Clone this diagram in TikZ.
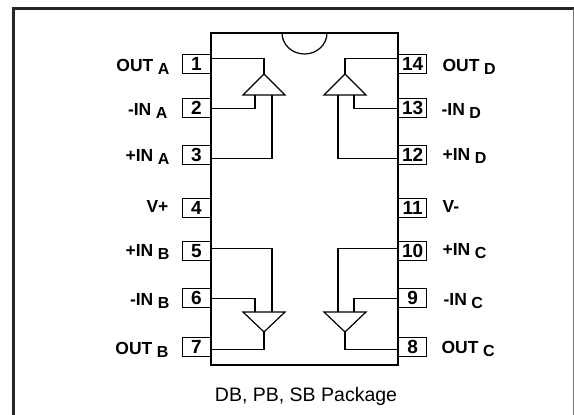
\documentclass[tikz,border=0pt]{standalone}
\usepackage{fontspec}
\setmainfont{Liberation Sans}
\usetikzlibrary{positioning}
\begin{document}
\begin{tikzpicture}[
    x=1pt,
    y=-1pt,
    line width=1.2pt,
    pinbox/.style={
      draw,
      minimum width=28pt,
      minimum height=19pt,
      inner sep=0,
      font=\bfseries\fontsize{19}{19}\selectfont,
    },
    pinlabel/.style={
      inner sep=0,
      font=\bfseries\fontsize{17.5}{18}\selectfont,
    },
    caption/.style={
      inner sep=0,
      font=\fontsize{19.5}{20}\selectfont,
    },
  ]
    \newcommand\leftpin[3]{%
      \node[pinbox,anchor=north east] (#3) at (211, #2) {#1\hspace{6pt}};
    }
    \newcommand\rightpin[3]{%
      \node[pinbox,anchor=north west] (#3) at (398, #2) {#1\hspace{3pt}};
    }
    \newcommand\pinsub[1]{\hspace{4.5pt}\raisebox{-3pt}{\fontsize{16}{16}\selectfont #1}}

    \useasboundingbox (0, 0) rectangle (574, 415);
    \draw[line width=2.8pt,color=black!85] (13.5, 415) -- (13.5, 8.5) -- (574, 8.5);
    \draw[line width=1pt,color=black!55] (573.5, 8.5) -- (573.5, 415);

    \draw (211, 33) rectangle (398, 365);
    \draw (282, 33) arc[start angle=180, end angle=360, x radius=22.5, y radius=-21];

    \leftpin{1}{54}{pinone}
    \leftpin{2}{98}{pintwo}
    \leftpin{3}{145}{pinthree}
    \leftpin{4}{198}{pinfour}
    \leftpin{5}{241}{pinfive}
    \leftpin{6}{288}{pinsix}
    \leftpin{7}{337}{pinseven}
    \rightpin{14}{54}{pinfourteen}
    \rightpin{13}{98}{pinthirteen}
    \rightpin{12}{145}{pintwelve}
    \rightpin{11}{198}{pineleven}
    \rightpin{10}{241}{pinten}
    \rightpin{9}{288}{pinnine}
    \rightpin{8}{337}{pineight}

    \node[pinlabel,anchor=base east] (outa) at (170, 71) {OUT\pinsub{A}};
    \node[pinlabel,anchor=base east] (mina) at (168, 115) {-IN\pinsub{A}};
    \node[pinlabel,anchor=base east] (plusa) at (170, 161) {+IN\pinsub{A}};
    \node[pinlabel,anchor=base east] (vplus) at (169, 212) {V+};
    \node[pinlabel,anchor=base east] (plusb) at (170, 256) {+IN\pinsub{B}};
    \node[pinlabel,anchor=base east] (minb) at (170, 305) {-IN\pinsub{B}};
    \node[pinlabel,anchor=base east] (outb) at (169, 354) {OUT\pinsub{B}};
    \node[pinlabel,anchor=base west] (outd) at (442, 71) {OUT\pinsub{D}};
    \node[pinlabel,anchor=base west] (mind) at (441, 115) {-IN\pinsub{D}};
    \node[pinlabel,anchor=base west] (plusd) at (442, 160) {+IN\pinsub{D}};
    \node[pinlabel,anchor=base west] (vminus) at (442, 212) {V-};
    \node[pinlabel,anchor=base west] (plusc) at (442, 255) {+IN\pinsub{C}};
    \node[pinlabel,anchor=base west] (minc) at (443, 305) {-IN\pinsub{C}};
    \node[pinlabel,anchor=base west] (outc) at (441, 353) {OUT\pinsub{C}};

    \node[caption,anchor=base] (pkg) at (306, 401) {DB, PB, SB Package};

    % amplifiers
    \coordinate (tipa) at (264, 74);
    \coordinate (mininputa) at (255, 95);
    \coordinate (plusinputa) at (272, 95);
    \coordinate (tipd) at (345, 74);
    \coordinate (mininputd) at (354, 95);
    \coordinate (plusinputd) at (338, 95);
    \coordinate (tipb) at (264, 332);
    \coordinate (mininputb) at (255, 312);
    \coordinate (plusinputb) at (272, 312);
    \coordinate (tipc) at (345, 332);
    \coordinate (mininputc) at (354, 312);
    \coordinate (plusinputc) at (338, 312);

    \draw (tipa) -- (243, 95) -- (285, 95) -- cycle;
    \draw (tipd) -- (324, 95) -- (366, 95) -- cycle;
    \draw (tipb) -- (243, 312) -- (285, 312) -- cycle;
    \draw (tipc) -- (324, 312) -- (366, 312) -- cycle;

    % wires
    \draw ([yshift=5.5pt]pinone.east) -| (tipa);
    \draw ([yshift=-0.5pt]pintwo.east) -| (mininputa);
    \draw ([yshift=-3.5pt]pinthree.east) -| (plusinputa);
    \draw ([yshift=5.5pt]pinfourteen.west) -| (tipd);
    \draw ([yshift=-0.5pt]pinthirteen.west) -| (mininputd);
    \draw ([yshift=-3.5pt]pintwelve.west) -| (plusinputd);
    \draw ([yshift=2.5pt]pinfive.east) -| (plusinputb);
    \draw ([yshift=-0.5pt]pinsix.east) -| (mininputb);
    \draw ([yshift=-2.5pt]pinseven.east) -| (tipb);
    \draw ([yshift=2.5pt]pinten.west) -| (plusinputc);
    \draw ([yshift=-0.5pt]pinnine.west) -| (mininputc);
    \draw ([yshift=-2.5pt]pineight.west) -| (tipc);
  \end{tikzpicture}
\end{document}
